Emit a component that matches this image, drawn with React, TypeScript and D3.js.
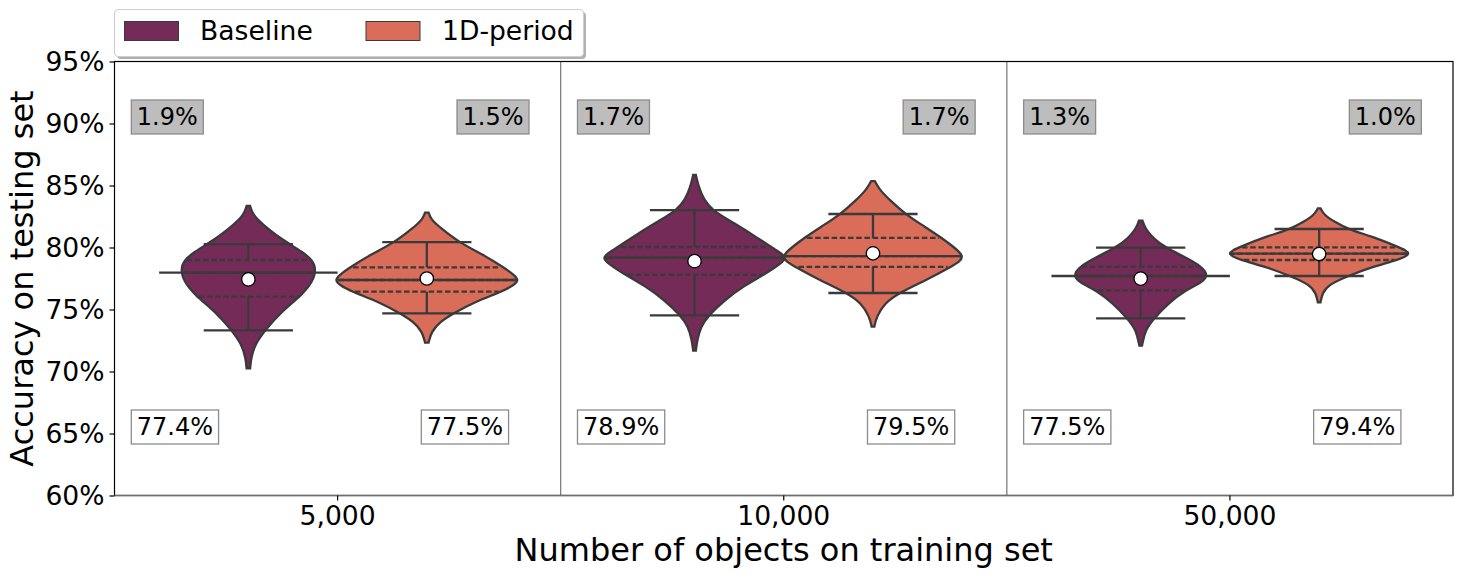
import { useRef, useEffect } from "react"
import * as d3 from "d3"

const categories = ["5,000", "10,000", "50,000"]
const seriesNames = ["Baseline", "1D-period"]
const seriesColors = ["#752B58", "#DA6D59"]
const yTicks = [60, 65, 70, 75, 80, 85, 90, 95]

// [accuracy, relative density]
const baseline5k = [[83.35, 0.02], [82.62, 0.05], [81.81, 0.17], [81.0, 0.31], [80.28, 0.46], [79.66, 0.6], [78.99, 0.72], [78.19, 0.76], [77.24, 0.72], [76.17, 0.6], [74.83, 0.37], [73.35, 0.19], [72.14, 0.07], [71.07, 0.03], [70.26, 0.02]]
const period5k = [[82.81, 0.02], [82.22, 0.05], [81.55, 0.16], [80.44, 0.355], [79.4, 0.635], [78.4, 0.86], [77.78, 0.98], [77.38, 1.03], [76.98, 0.98], [76.44, 0.84], [75.63, 0.54], [74.69, 0.3], [74.02, 0.15], [73.21, 0.05], [72.33, 0.02]]
const baseline10k = [[85.85, 0.015], [84.91, 0.045], [83.83, 0.105], [83.02, 0.2], [82.22, 0.38], [81.14, 0.63], [80.04, 0.86], [79.53, 0.97], [79.18, 1.03], [78.72, 0.97], [77.81, 0.78], [76.84, 0.54], [75.77, 0.34], [74.53, 0.157], [73.62, 0.07], [72.54, 0.03], [71.68, 0.015]]
const period10k = [[85.36, 0.02], [84.64, 0.075], [83.83, 0.187], [82.7, 0.36], [81.68, 0.58], [80.77, 0.77], [80.07, 0.9], [79.31, 1.02], [78.86, 0.97], [78.43, 0.87], [77.38, 0.6], [76.33, 0.29], [75.5, 0.13], [74.42, 0.04], [73.62, 0.015]]
const baseline50k = [[82.16, 0.02], [81.54, 0.05], [80.74, 0.14], [79.99, 0.28], [79.26, 0.485], [78.45, 0.69], [77.7, 0.76], [77.11, 0.67], [76.55, 0.5], [75.5, 0.31], [74.29, 0.15], [73.35, 0.05], [72.08, 0.015]]
const period50k = [[83.16, 0.015], [82.62, 0.056], [82.08, 0.17], [81.49, 0.32], [80.87, 0.6], [80.01, 0.9], [79.5, 1.05], [78.99, 0.88], [78.45, 0.6], [77.7, 0.32], [76.98, 0.1], [76.3, 0.035], [75.58, 0.015]]
const densities = [baseline5k, period5k, baseline10k, period10k, baseline50k, period50k]

const lowerWhiskers = [73.32, 74.69, 74.53, 76.33, 74.29, 77.7]
const lowerQuartiles = [76.04, 76.44, 77.81, 78.43, 76.55, 78.99]
const medians = [77.97, 77.38, 79.18, 79.31, 77.7, 79.5]
const upperQuartiles = [78.99, 78.4, 80.04, 80.77, 78.45, 80.01]
const upperWhiskers = [80.28, 80.44, 83.02, 82.7, 79.99, 81.49]
const means = [77.43, 77.5, 78.9, 79.53, 77.49, 79.47]

const meanLabels = ["77.4%", "77.5%", "78.9%", "79.5%", "77.5%", "79.4%"]
const stdLabels = ["1.9%", "1.5%", "1.7%", "1.7%", "1.3%", "1.0%"]

const FONT = "'DejaVu Sans', sans-serif"
const LINE = "#3a3a3a"

export default function App() {
  const svgRef = useRef<SVGSVGElement | null>(null)

  useEffect(() => {
    if (!svgRef.current) return
    d3.select(svgRef.current).selectAll("*").remove()
    const svg = d3.select(svgRef.current)

    const left = 114.5
    const right = 1453
    const top = 61.5
    const bottom = 495.5

    const x = d3.scaleBand<string>().domain(categories).range([left, right])
    const y = d3.scaleLinear().domain([60, 95]).range([bottom, top])
    const dodge = x.bandwidth() * 0.2
    const maxHalf = x.bandwidth() * 0.2
    const capHalf = x.bandwidth() * 0.1

    // violins
    densities.forEach((density, i) => {
      const cat = categories[Math.floor(i / 2)]
      const cx = x(cat)! + x.bandwidth() / 2 + (i % 2 === 0 ? -dodge : dodge)
      const widthAt = d3
        .scaleLinear()
        .domain(density.map((d) => d[0]).reverse())
        .range(density.map((d) => d[1] * maxHalf).reverse())

      const area = d3
        .area<number[]>()
        .y((d) => y(d[0]))
        .x0((d) => cx - d[1] * maxHalf)
        .x1((d) => cx + d[1] * maxHalf)
        .curve(d3.curveBasis)

      svg
        .append("path")
        .attr("d", area(density))
        .attr("fill", seriesColors[i % 2])
        .attr("stroke", LINE)
        .attr("stroke-width", 2.3)

      // quartile dashes, clipped to the violin width
      ;[lowerQuartiles[i], medians[i], upperQuartiles[i]].forEach((q) => {
        svg
          .append("line")
          .attr("x1", cx - widthAt(q) * 0.96)
          .attr("x2", cx + widthAt(q) * 0.96)
          .attr("y1", y(q))
          .attr("y2", y(q))
          .attr("stroke", LINE)
          .attr("stroke-width", 2.3)
          .attr("stroke-dasharray", "5.5,2.7")
      })

      const hline = (v: number, half: number) =>
        svg
          .append("line")
          .attr("x1", cx - half)
          .attr("x2", cx + half)
          .attr("y1", y(v))
          .attr("y2", y(v))
          .attr("stroke", LINE)
          .attr("stroke-width", 2.3)
      const vline = (a: number, b: number) =>
        svg
          .append("line")
          .attr("x1", cx)
          .attr("x2", cx)
          .attr("y1", y(a))
          .attr("y2", y(b))
          .attr("stroke", LINE)
          .attr("stroke-width", 2.3)

      vline(upperWhiskers[i], upperQuartiles[i])
      vline(lowerQuartiles[i], lowerWhiskers[i])
      hline(upperWhiskers[i], capHalf)
      hline(lowerWhiskers[i], capHalf)
      hline(medians[i], maxHalf)

      svg
        .append("circle")
        .attr("cx", cx)
        .attr("cy", y(means[i]))
        .attr("r", 6.7)
        .attr("fill", "white")
        .attr("stroke", "black")
        .attr("stroke-width", 1.3)
    })

    // annotation boxes
    const addLabel = (text: string, tx: number, ty: number, fill: string) => {
      const g = svg.append("g")
      const rect = g.append("rect")
      const label = g
        .append("text")
        .attr("x", tx)
        .attr("y", ty)
        .attr("font-family", FONT)
        .attr("font-size", 24)
        .attr("fill", "black")
        .text(text)
      const box = (label.node() as SVGTextElement).getBBox()
      rect
        .attr("x", tx - 5.5)
        .attr("y", ty - 24.5)
        .attr("width", box.width + 11)
        .attr("height", 34)
        .attr("fill", fill)
        .attr("stroke", "#8c8c8c")
        .attr("stroke-width", 1.3)
    }
    const catX = (c: number, offset: number) => x(categories[c])! + x.bandwidth() / 2 + offset * x.bandwidth()
    categories.forEach((_, c) => {
      addLabel(stdLabels[c * 2], catX(c, -0.45), y(90) + 1, "#bdbdbd")
      addLabel(stdLabels[c * 2 + 1], catX(c, 0.28), y(90) + 1, "#bdbdbd")
      addLabel(meanLabels[c * 2], catX(c, -0.45), y(65) + 1, "white")
      addLabel(meanLabels[c * 2 + 1], catX(c, 0.2), y(65) + 1, "white")
    })

    // separators and frame
    categories.slice(1).forEach((c) => {
      svg
        .append("line")
        .attr("x1", x(c)!)
        .attr("x2", x(c)!)
        .attr("y1", top)
        .attr("y2", bottom)
        .attr("stroke", "#808080")
        .attr("stroke-width", 1.3)
    })
    svg
      .append("rect")
      .attr("x", left)
      .attr("y", top)
      .attr("width", right - left)
      .attr("height", bottom - top)
      .attr("fill", "none")
      .attr("stroke", "black")
      .attr("stroke-width", 1.2)
    svg
      .append("line")
      .attr("x1", left)
      .attr("x2", right)
      .attr("y1", bottom)
      .attr("y2", bottom)
      .attr("stroke", "#6e6e6e")
      .attr("stroke-width", 1.6)

    // axes
    const yAxis = svg
      .append("g")
      .attr("transform", `translate(${left},0)`)
      .call(d3.axisLeft(y).tickValues(yTicks).tickFormat((d) => `${d}%`).tickSize(5).tickPadding(5))
    const xAxis = svg
      .append("g")
      .attr("transform", `translate(0,${bottom})`)
      .call(d3.axisBottom(x).tickSize(5).tickPadding(6))
    ;[yAxis, xAxis].forEach((a) => {
      a.select(".domain").remove()
      a.selectAll("text").attr("font-family", FONT).attr("font-size", 26.6).attr("fill", "black")
      a.selectAll("line").attr("stroke", "black").attr("stroke-width", 1.2)
    })

    svg
      .append("text")
      .attr("x", (left + right) / 2)
      .attr("y", 561)
      .attr("text-anchor", "middle")
      .attr("font-family", FONT)
      .attr("font-size", 32)
      .text("Number of objects on training set")
    svg
      .append("text")
      .attr("transform", `translate(33,${(top + bottom) / 2}) rotate(-90)`)
      .attr("text-anchor", "middle")
      .attr("font-family", FONT)
      .attr("font-size", 32)
      .text("Accuracy on testing set")

    // legend
    const legend = svg.append("g")
    legend
      .append("rect")
      .attr("x", 117)
      .attr("y", 12)
      .attr("width", 469)
      .attr("height", 47)
      .attr("rx", 4)
      .attr("fill", "#b0b0b0")
    legend
      .append("rect")
      .attr("x", 114.5)
      .attr("y", 9.5)
      .attr("width", 469)
      .attr("height", 47)
      .attr("rx", 4)
      .attr("fill", "white")
      .attr("stroke", "#d0d0d0")
      .attr("stroke-width", 1.2)
    const handleX = [124.5, 366]
    const legendTextX = [200, 442]
    seriesNames.forEach((name, i) => {
      legend
        .append("rect")
        .attr("x", handleX[i])
        .attr("y", 21.5)
        .attr("width", 54)
        .attr("height", 19)
        .attr("fill", seriesColors[i])
        .attr("stroke", LINE)
        .attr("stroke-width", 1)
      legend
        .append("text")
        .attr("x", legendTextX[i])
        .attr("y", 40)
        .attr("font-family", FONT)
        .attr("font-size", 26.6)
        .text(name)
    })
  }, [])

  return <svg ref={svgRef} width={1463} height={577} style={{ position: "absolute", left: 0, top: 0 }}></svg>
}
